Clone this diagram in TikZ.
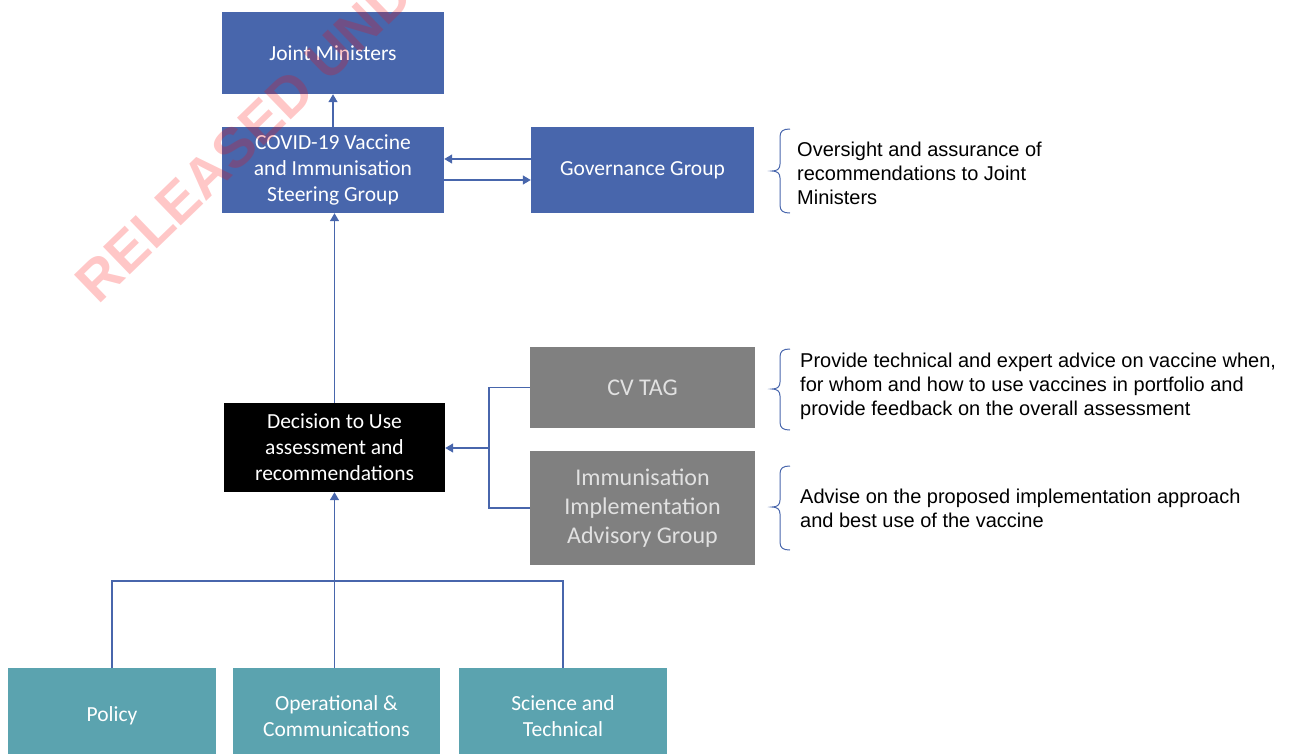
\documentclass[tikz,border=0pt]{standalone}
\usepackage{fontspec}
\setmainfont{Carlito}
\newfontfamily\arialf{Liberation Sans}
\usetikzlibrary{arrows.meta}
\definecolor{bluebox}{RGB}{72,102,172}
\definecolor{graybox}{RGB}{128,128,128}
\definecolor{tealbox}{RGB}{91,163,175}
\definecolor{graytext}{RGB}{225,225,225}
\definecolor{linecol}{RGB}{72,102,172}
\newcommand\mybrace[4]{%
  \draw[bracecol] (790,#2) .. controls (783,#2) and (780,#2+2) .. (780,#2+8)
    -- (780,#3-7) .. controls (780,#3-2) and (777,#3) .. (#1,#3)
    .. controls (777,#3) and (780,#3+2) .. (780,#3+7)
    -- (780,#4-8) .. controls (780,#4-2) and (783,#4) .. (790,#4);}
\begin{document}
\begin{tikzpicture}[x=1pt,y=-1pt,
  box/.style={inner sep=0pt, align=center, text=white, font=\fontsize{21.5}{26}\selectfont},
  bluebx/.style={box, fill=bluebox},
  graybx/.style={box, fill=graybox, text=graytext, font=\fontsize{24}{29}\selectfont},
  tealbx/.style={box, fill=tealbox},
  blackbx/.style={box, fill=black},
  conn/.style={draw=linecol, line width=1.3pt, -{Triangle[length=8pt,width=9pt]}},
  plain/.style={draw=linecol, line width=1.3pt},
  bracecol/.style={draw=linecol, line width=1pt},
  desc/.style={inner sep=0pt, anchor=west, align=left, font=\arialf\fontsize{20}{24}\selectfont}
]
\useasboundingbox (0,0) rectangle (1289,753);
\begin{scope}
\clip (0,0) rectangle (1289,753);

\node[bluebx, minimum width=222pt, minimum height=82pt] (joint) at (333,53) {Joint Ministers};
\node[bluebx, minimum width=222pt, minimum height=86pt] (steer) at (333,170) {COVID-19 Vaccine\\and Immunisation\\Steering Group};
\node[bluebx, minimum width=223pt, minimum height=86pt] (gov) at (642.5,170) {Governance Group};
\node[graybx, minimum width=225pt, minimum height=81pt] (cvtag) at (642.5,387.5) {CV TAG};
\node[graybx, minimum width=225pt, minimum height=114pt] (iiag) at (642.5,508) {Immunisation\\Implementation\\Advisory Group};
\node[blackbx, minimum width=221pt, minimum height=89pt] (dec) at (334.5,447.5) {Decision to Use\\assessment and\\recommendations};
\node[tealbx, minimum width=208pt, minimum height=96pt] (policy) at (112,716) {Policy};
\node[tealbx, minimum width=207pt, minimum height=96pt] (oper) at (336.5,716) {Operational \&\\Communications};
\node[tealbx, minimum width=208pt, minimum height=96pt] (sci) at (563,716) {Science and\\Technical};

% connectors
\draw[conn] (steer.north) -- (joint.south);
\draw[conn] (dec.north) -- (dec.north |- steer.south);
\draw[conn] ([yshift=11pt]gov.west) -- ([yshift=11pt]steer.east);
\draw[conn] ([yshift=-10pt]steer.east) -- ([yshift=-10pt]gov.west);

\coordinate (j) at (489,448);
\draw[plain] (cvtag.west) -| (j) |- (iiag.west);
\draw[conn] (j) -- (j -| dec.east);

\coordinate (b) at (335,581);
\draw[plain] (policy.north) |- (b) -| (sci.north);
\draw[conn] (dec.south |- oper.north) -- (dec.south);

% braces and descriptions
\mybrace{772}{129}{171}{213}
\mybrace{772}{349}{389}{430}
\mybrace{772}{466}{507}{550}

\node[desc] (d1) at (797,173) {Oversight and assurance of\\recommendations to Joint\\Ministers};
\node[desc] (d2) at (800,386) {Provide technical and expert advice on vaccine when,\\for whom and how to use vaccines in portfolio and\\provide feedback on the overall assessment};
\node[desc] (d3) at (800,508) {Advise on the proposed implementation approach\\and best use of the vaccine};

% watermark
\node[rotate=44, anchor=base west, inner sep=0pt, text=red, opacity=0.22,
      font=\fontspec{Liberation Sans}\bfseries\fontsize{56}{56}\selectfont] (wm) at (98,306) {RELEASED UNDER};
\end{scope}
\end{tikzpicture}
\end{document}
